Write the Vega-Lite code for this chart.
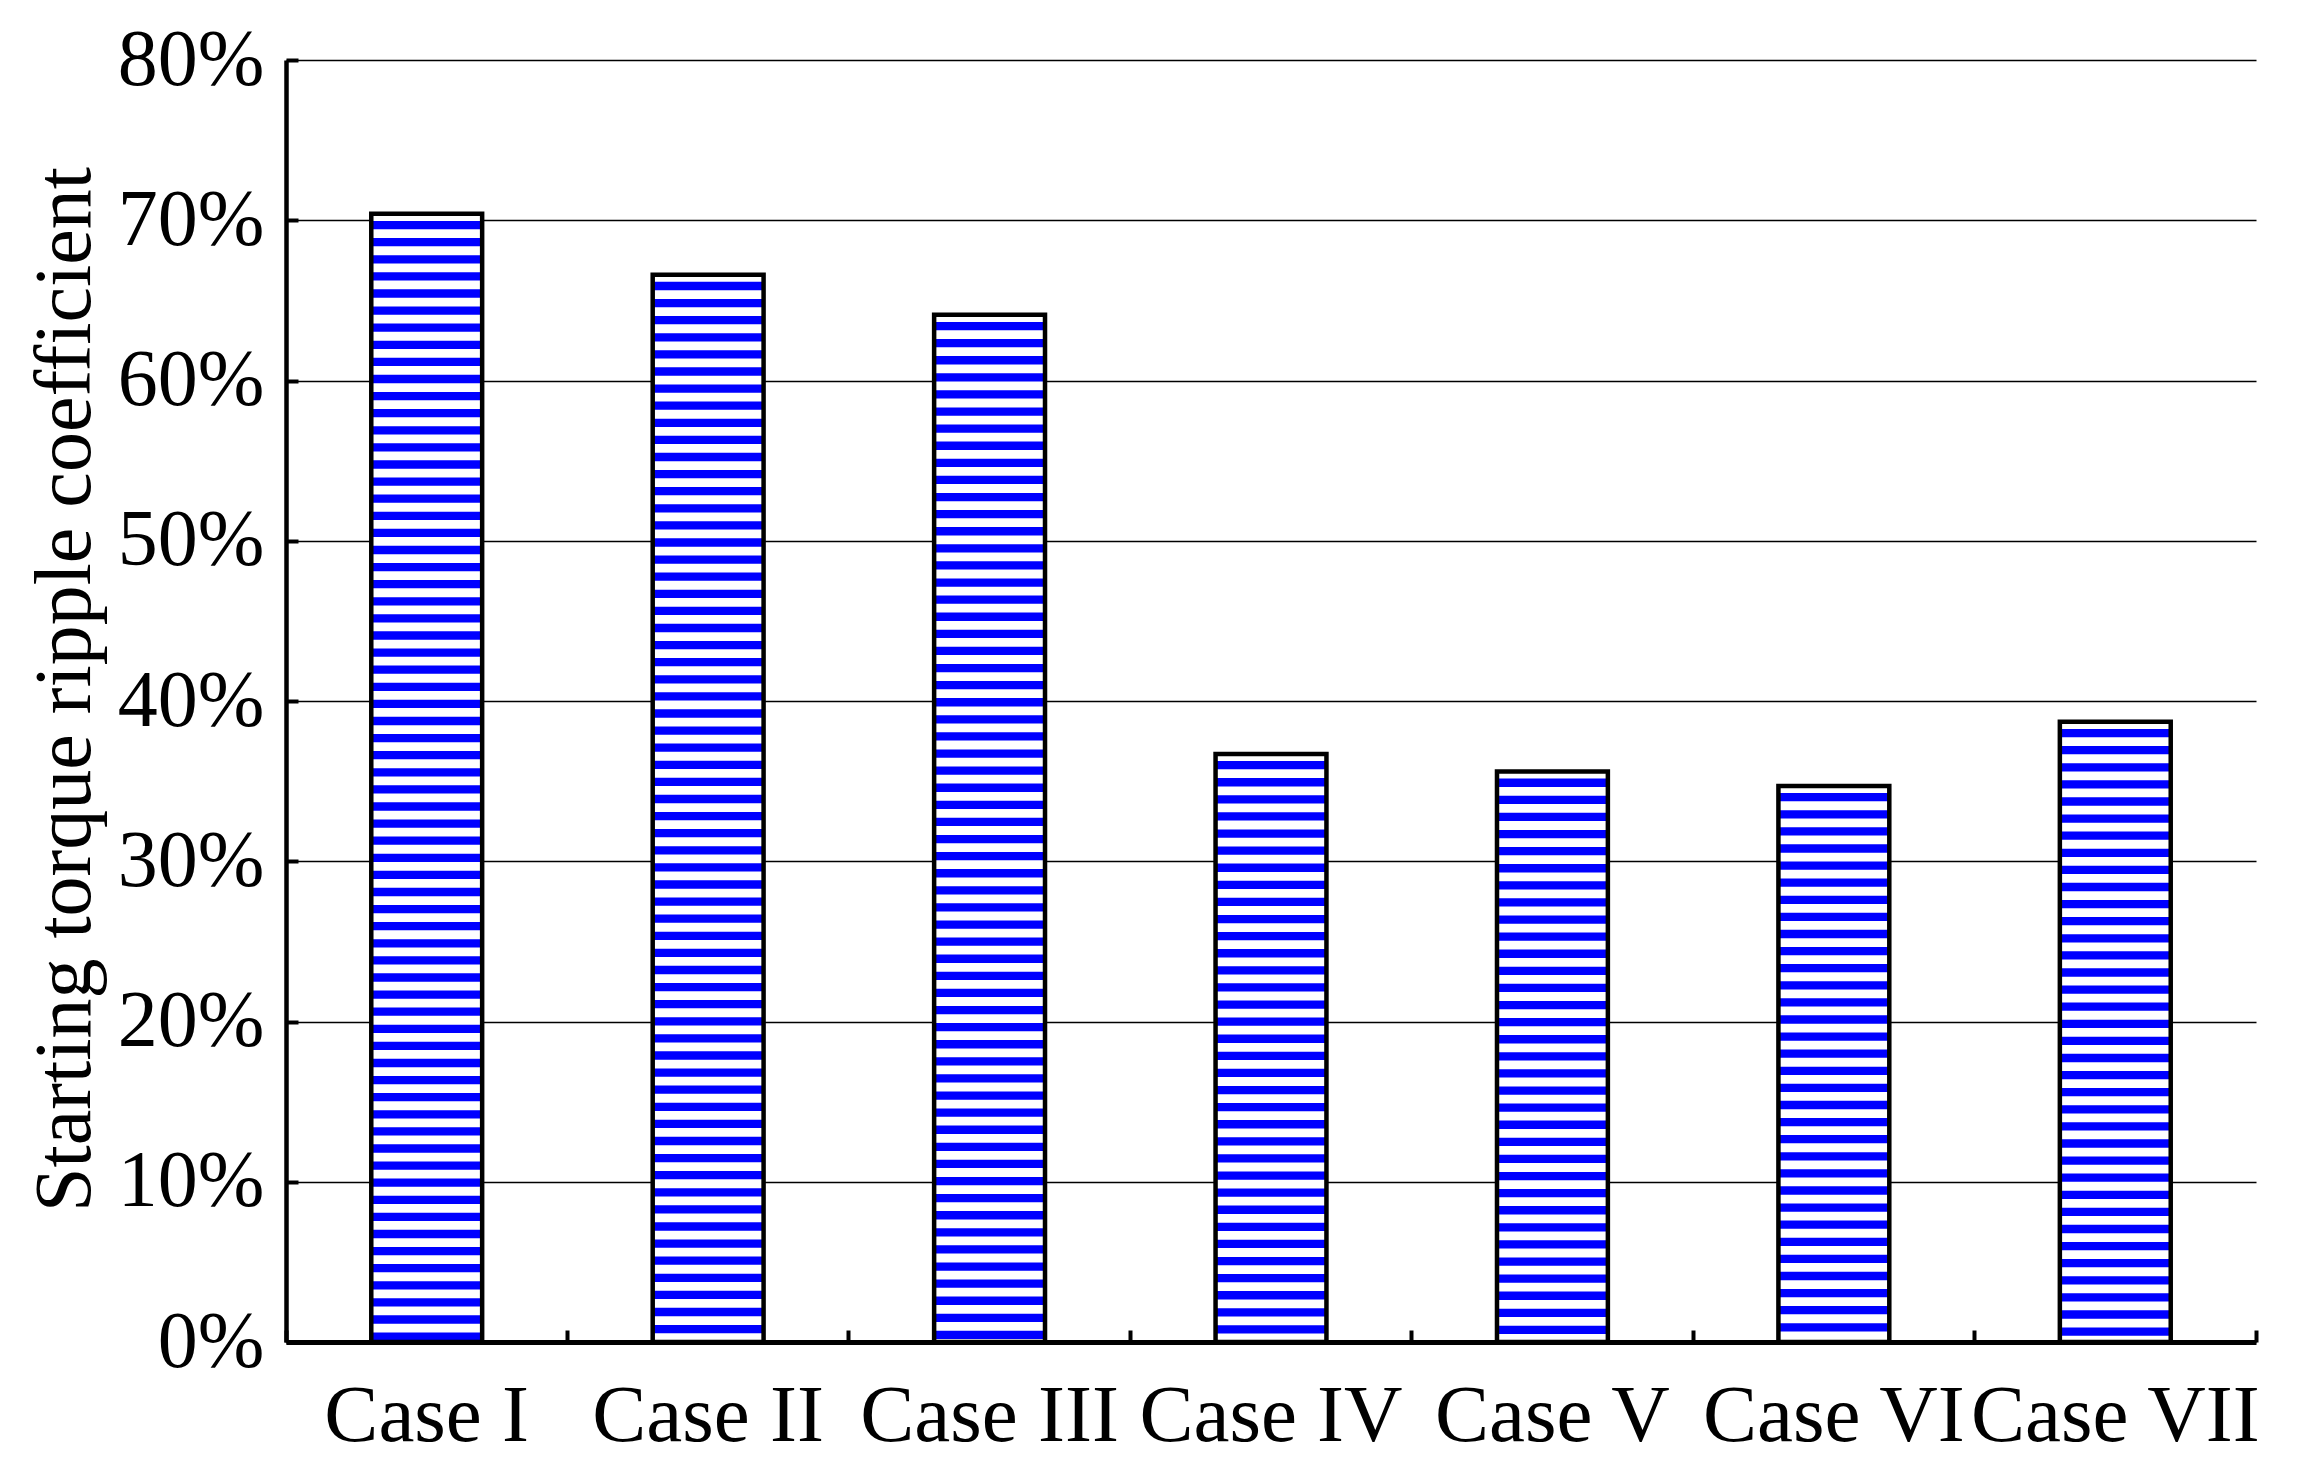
{
  "$schema": "https://vega.github.io/schema/vega-lite/v6.json",
  "width": 1970,
  "height": 1282,
  "autosize": "none",
  "padding": {"left": 286, "top": 60, "right": 53, "bottom": 131},
  "background": "white",
  "config": {"view": {"stroke": null}, "font": "Liberation Serif"},
  "data": {
    "values": [
      {"case": "Case I", "value": 0.704},
      {"case": "Case II", "value": 0.666},
      {"case": "Case III", "value": 0.641},
      {"case": "Case IV", "value": 0.367},
      {"case": "Case V", "value": 0.356},
      {"case": "Case VI", "value": 0.347},
      {"case": "Case VII", "value": 0.387}
    ]
  },
  "encoding": {
    "x": {
      "field": "case",
      "type": "nominal",
      "sort": null,
      "scale": {"paddingInner": 0, "paddingOuter": 0},
      "axis": {
        "title": null,
        "labelAngle": 0,
        "labelFont": "Liberation Serif",
        "labelFontSize": 81,
        "labelColor": "black",
        "labelPadding": 46,
        "labelBaseline": "top",
        "labelLimit": 0,
        "labelOverlap": false,
        "labelBound": false,
        "domainColor": "black",
        "domainWidth": 5,
        "ticks": true,
        "tickColor": "black",
        "tickWidth": 4,
        "tickSize": -12,
        "bandPosition": 1,
        "tickExtra": true,
        "grid": false
      }
    },
    "y": {
      "field": "value",
      "type": "quantitative",
      "scale": {"domain": [0, 0.8], "nice": false},
      "axis": {
        "values": [0, 0.1, 0.2, 0.3, 0.4, 0.5, 0.6, 0.7, 0.8],
        "format": ".0%",
        "title": "Starting torque ripple coefficient",
        "titleFont": "Liberation Serif",
        "titleFontSize": 80,
        "titleFontWeight": "normal",
        "titleColor": "black",
        "titleAngle": -90,
        "titleX": -197,
        "titleY": 629,
        "titleAlign": "center",
        "titleBaseline": "alphabetic",
        "labelFont": "Liberation Serif",
        "labelFontSize": 80,
        "labelColor": "black",
        "labelPadding": 34,
        "labelLimit": 0,
        "labelOverlap": false,
        "domainColor": "black",
        "domainWidth": 4.5,
        "tickColor": "black",
        "tickWidth": 4,
        "tickSize": -12,
        "grid": true,
        "gridColor": "black",
        "gridWidth": 1.3,
        "gridOpacity": 1
      }
    }
  },
  "layer": [
    {
      "mark": {"type": "bar", "fill": "white", "strokeWidth": 0, "width": {"band": 0.394}}
    },
    {
      "mark": {"type": "rule", "color": "#0000ff", "strokeWidth": 108, "strokeDash": [8.3, 8.8], "strokeDashOffset": 10, "strokeCap": "butt"},
      "encoding": {
        "y2": {"datum": 0}
      }
    },
    {
      "mark": {"type": "bar", "fillOpacity": 0, "stroke": "black", "strokeWidth": 4.5, "width": {"band": 0.394}}
    }
  ]
}
